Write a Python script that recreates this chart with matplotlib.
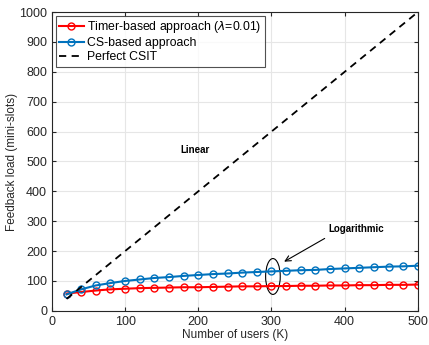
import matplotlib.pyplot as plt
from matplotlib.patches import Ellipse

plt.rcParams["font.family"] = ["Liberation Sans", "DejaVu Sans"]

users = [20, 40, 60, 80, 100, 120, 140, 160, 180, 200, 220, 240, 260,
         280, 300, 320, 340, 360, 380, 400, 420, 440, 460, 480, 500]
timer_load = [58, 63, 68, 72, 74, 76, 77, 78, 79, 79, 80, 81, 82,
              82, 83, 83, 84, 84, 85, 85, 86, 86, 87, 87, 88]
cs_load = [55, 72, 85, 93, 100, 105, 110, 113, 117, 120, 123, 125, 128,
           130, 132, 134, 136, 137, 140, 142, 144, 146, 148, 149, 151]
csit_users = [20, 500]
csit_load = [40, 1000]

fig = plt.figure(figsize=(4.29, 3.45), dpi=100)
ax = fig.add_axes([0.121, 0.099, 0.853, 0.866])

ax.plot(users, timer_load, color="#ff0000", marker="o", markersize=5,
        markerfacecolor="none", linewidth=1.5,
        label=r"Timer-based approach ($\lambda$=0.01)")
ax.plot(users, cs_load, color="#0072bd", marker="o", markersize=5,
        markerfacecolor="none", linewidth=1.5, label="CS-based approach")
ax.plot(csit_users, csit_load, color="black", linestyle=(0, (4, 3)),
        linewidth=1.3, label="Perfect CSIT")

ax.add_patch(Ellipse((302, 115), 20, 120, fill=False, edgecolor="black", linewidth=0.8))
ax.annotate("", xy=(314, 160), xytext=(376, 247),
            arrowprops=dict(arrowstyle="->", color="black", linewidth=0.8))
ax.text(378, 264, "Logarithmic", fontsize=7, fontweight="bold")
ax.text(175, 528, "Linear", fontsize=7, fontweight="bold")

ax.set_xlim(0, 500)
ax.set_ylim(0, 1000)
ax.set_xticks(range(0, 501, 100))
ax.set_yticks(range(0, 1001, 100))
ax.tick_params(direction="in", labelsize=9, top=True, right=True, length=3, colors="#262626")
ax.grid(True, color="#e6e6e6", linewidth=0.8)
ax.set_axisbelow(True)
for s in ax.spines.values():
    s.set_color("#262626")
    s.set_linewidth(0.8)

ax.set_xlabel("Number of users (K)", fontsize=8.5, color="#262626", labelpad=1)
ax.set_ylabel("Feedback load (mini-slots)", fontsize=8.5, color="#262626", labelpad=1)

leg = ax.legend(loc="upper left", fontsize=8.8, frameon=True, fancybox=False,
                edgecolor="#262626", borderpad=0.3, labelspacing=0.15,
                handlelength=2.0, handletextpad=0.3, borderaxespad=0.3)
leg.get_frame().set_linewidth(0.8)

fig.savefig("out.png", dpi=100)
